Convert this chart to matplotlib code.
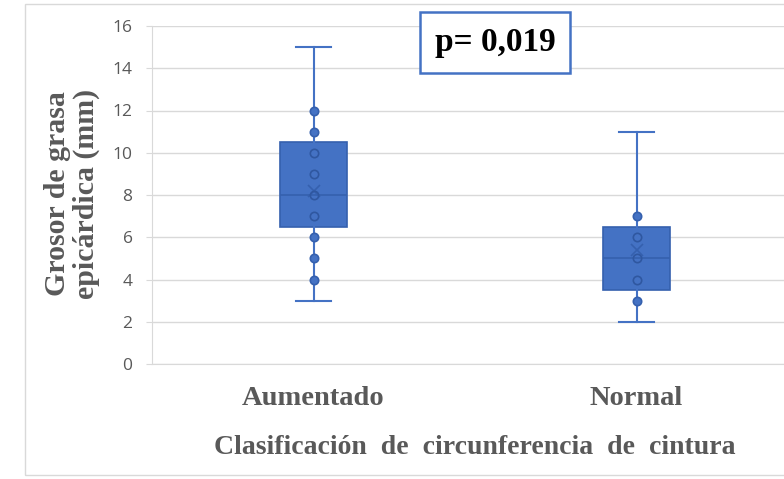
import matplotlib.pyplot as plt
from matplotlib.patches import Rectangle

# data
categories = ["Aumentado", "Normal"]
whisker_low = [3, 2]
q1 = [6.5, 3.5]
medians = [8, 5]
q3 = [10.5, 6.5]
whisker_high = [15, 11]
means = [8.2, 5.4]
points = [[4, 5, 6, 7, 8, 9, 10, 11, 12], [3, 4, 5, 6, 7]]

blue = "#4472C4"
edge = "#3560AE"
grey_txt = "#595959"

fig = plt.figure(figsize=(7.84, 4.79), dpi=100)
fig.patches.append(Rectangle((25 / 784, 4 / 479), 1.0, 471 / 479, transform=fig.transFigure,
                             fill=False, edgecolor="#d9d9d9", lw=1.0))

ax = fig.add_axes([152 / 784, 1 - 364 / 479, 646 / 784, 338 / 479])

stats = []
for i, c in enumerate(categories):
    stats.append(dict(label=c, whislo=whisker_low[i], q1=q1[i], med=medians[i],
                      q3=q3[i], whishi=whisker_high[i], mean=means[i], fliers=[]))

ax.bxp(stats, positions=[1, 2], widths=0.205, patch_artist=True, showmeans=True,
       boxprops=dict(facecolor=blue, edgecolor=edge, lw=1.2),
       medianprops=dict(color=edge, lw=1.2),
       whiskerprops=dict(color=blue, lw=1.5),
       capprops=dict(color=blue, lw=1.5),
       meanprops=dict(marker="x", markeredgecolor=edge, markersize=9, markeredgewidth=1.2),
       capwidths=0.11, zorder=3)

for i, pts in enumerate(points):
    for v in pts:
        inside = q1[i] < v < q3[i]
        ax.plot(i + 1, v, "o", ms=6, zorder=4,
                markerfacecolor=blue if not inside else "none",
                markeredgecolor=edge if not inside else "#2F57A0", markeredgewidth=1.2)

ax.set_xlim(0.5, 2.5)
ax.set_ylim(0, 16)
ax.set_yticks(range(0, 17, 2))
ax.grid(axis="y", color="#d9d9d9", lw=1.0, zorder=0)
ax.set_axisbelow(True)
for s in ["top", "right"]:
    ax.spines[s].set_visible(False)
ax.spines["left"].set_color("#d9d9d9")
ax.spines["bottom"].set_color("#d9d9d9")
ax.tick_params(axis="y", colors="#d9d9d9", labelcolor=grey_txt, labelsize=12.5,
               length=4, pad=10)
for t in ax.get_yticklabels():
    t.set_family("Open Sans")
ax.tick_params(axis="x", length=0, pad=16)
ax.set_xticks([1, 2])
ax.set_xticklabels(categories, family="Liberation Serif", fontweight="bold",
                   fontsize=20.5, color=grey_txt)

fig.text(72 / 784, 1 - 194 / 479, "Grosor de grasa\nepicárdica (mm)", rotation=90,
         ha="center", va="center", family="Liberation Serif", fontweight="bold",
         fontsize=21.5, color=grey_txt, linespacing=1.05)
fig.text(475 / 784, 1 - 447 / 479, "Clasificación  de  circunferencia  de  cintura",
         ha="center", va="center", family="Liberation Serif", fontweight="bold",
         fontsize=20, color=grey_txt)

fig.text(495 / 784, 1 - 42 / 479, "p= 0,019", ha="center", va="center",
         family="Liberation Serif", fontweight="bold", fontsize=24, color="black",
         bbox=dict(boxstyle="square,pad=0.45", facecolor="white", edgecolor=blue, lw=1.8))

fig.savefig("out.png", dpi=100)
